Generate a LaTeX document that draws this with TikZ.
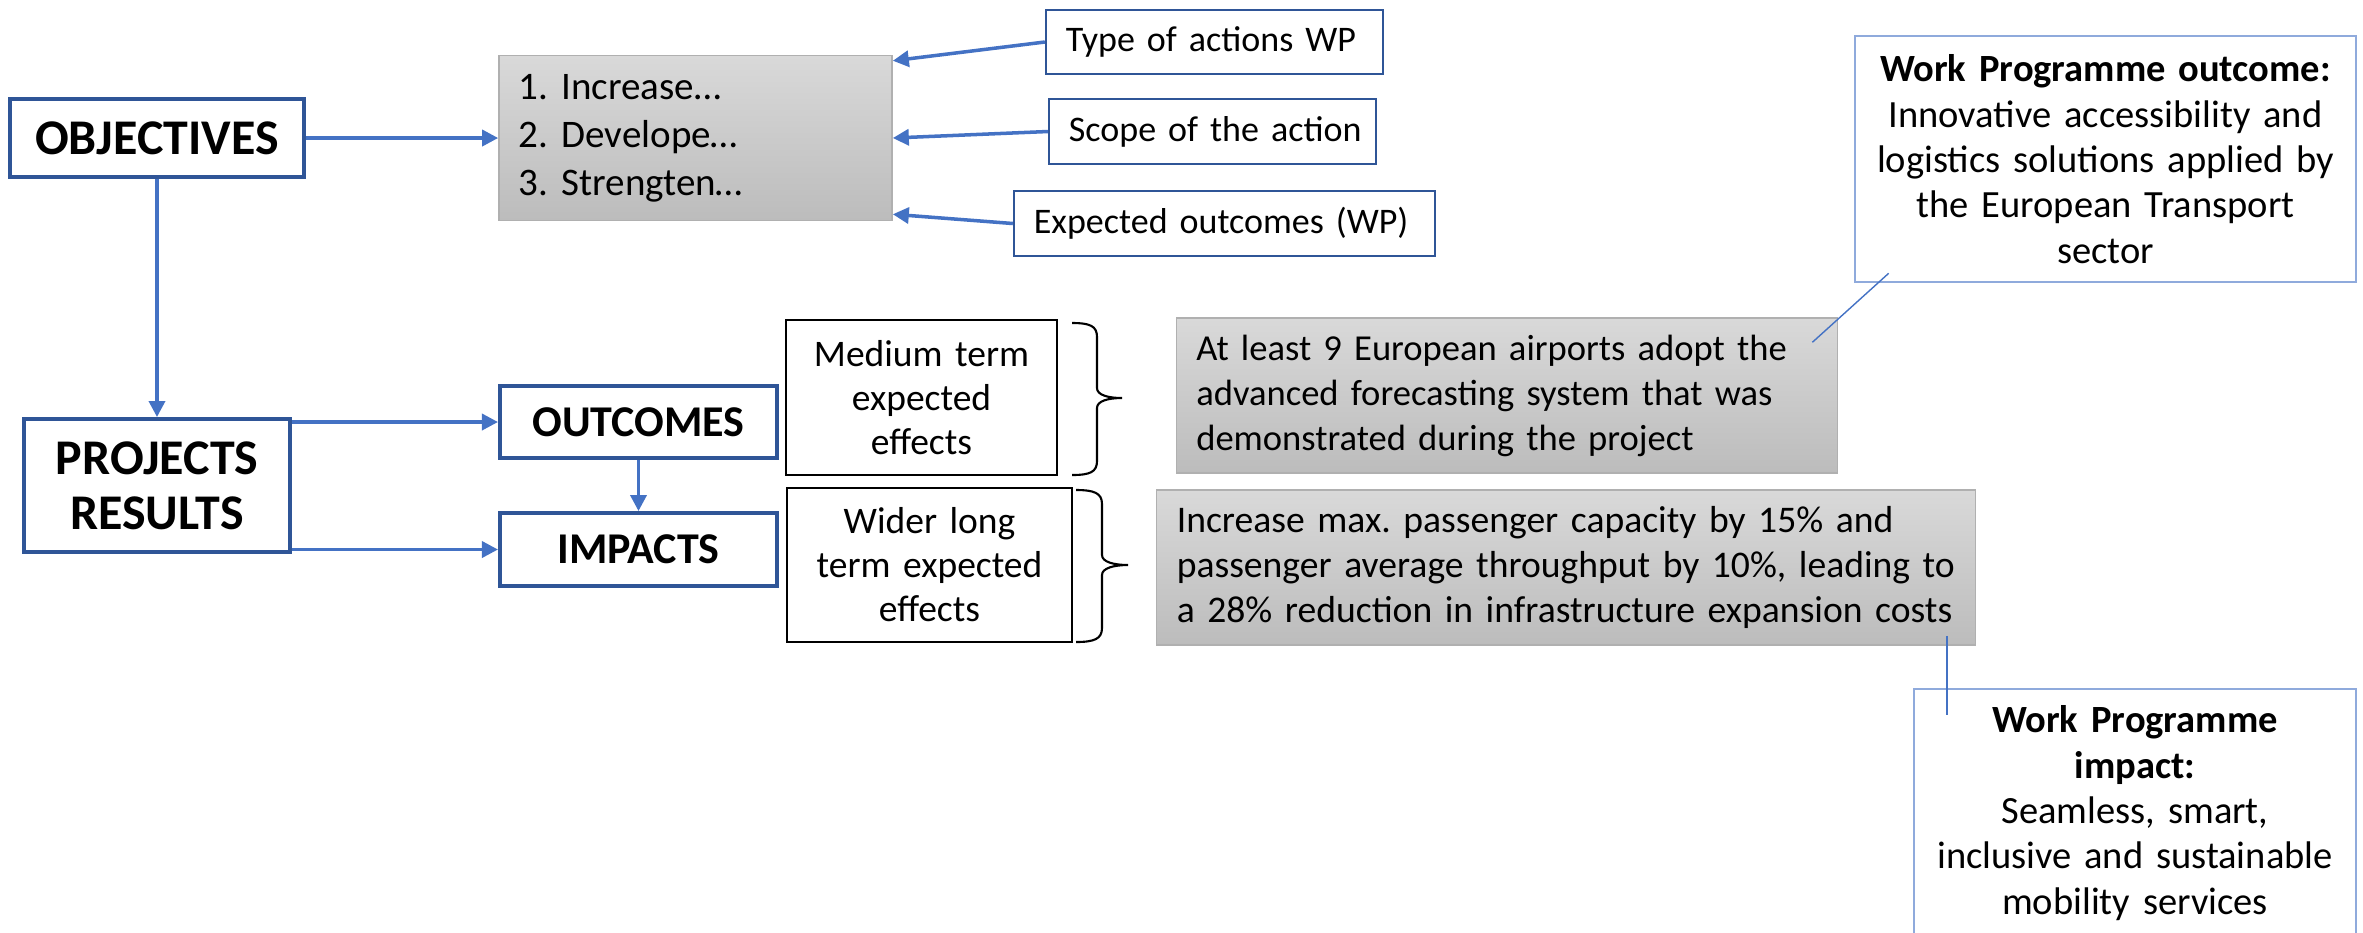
\documentclass[tikz,border=0pt]{standalone}
\usepackage{fontspec}
\setmainfont{Carlito}
\usetikzlibrary{arrows.meta}
\definecolor{darkblue}{HTML}{2F5597}
\definecolor{arrowblue}{HTML}{4472C4}
\definecolor{paleblue}{HTML}{8FAADC}
\definecolor{greytop}{HTML}{D9D9D9}
\definecolor{greybot}{HTML}{BCBCBC}
\definecolor{greyedge}{HTML}{B0B0B0}
\newcommand{\oneline}[1]{\mbox{#1}}
\frenchspacing
\begin{document}
\begin{tikzpicture}[x=0.01cm,y=-0.01cm,
    keybox/.style={draw=darkblue,line width=1.1pt,fill=white,align=center,inner sep=0pt},
    wpbox/.style={draw=darkblue,line width=0.6pt,fill=white,align=left,inner xsep=0.2cm,inner ysep=0pt,font=\fontsize{10.24}{12}\selectfont},
    effbox/.style={draw=black,line width=0.6pt,align=center,inner sep=0pt,font=\fontsize{10.67}{12.5}\selectfont},
    greybox/.style={draw=greyedge,line width=0.4pt,top color=greytop,bottom color=greybot,align=left,inner xsep=0.2cm,inner ysep=0pt,font=\fontsize{10.95}{12.8}\selectfont},
    notebox/.style={draw=paleblue,line width=0.7pt,fill=white,align=center,inner sep=0pt,font=\fontsize{10.95}{12.9}\selectfont},
    flow/.style={arrowblue,line width=1pt,-{Triangle[length=0.16cm,width=0.16cm]}},
    callout/.style={arrowblue,line width=0.4pt},
    bracket/.style={black,line width=0.6pt}]
  \useasboundingbox (0,0) rectangle (2363,932);
  \clip (0,0) rectangle (2363,932);
  \node[keybox,minimum width=2.93cm,minimum height=0.78cm,font=\bfseries\fontsize{14.2}{15.6}\selectfont] (obj) at (157,138) {OBJECTIVES};
  \node[greybox,text width=3.53cm,minimum height=1.65cm,font=\fontsize{11.1}{13.66}\selectfont] (list) at (695.5,138) {1. Increase…\\2. Develope…\\3. Strengten…};
  \node[wpbox,text width=2.97cm,minimum height=0.64cm] (typewp) at (1214.5,42) {\oneline{Type of actions WP}};
  \node[wpbox,text width=2.87cm,minimum height=0.65cm] (scope) at (1212.5,131.5) {\oneline{Scope of the action}};
  \node[wpbox,text width=3.81cm,minimum height=0.65cm] (expect) at (1224.5,223.5) {\oneline{Expected outcomes (WP)}};
  \node[keybox,minimum width=2.65cm,minimum height=1.33cm,font=\bfseries\fontsize{14.2}{15.6}\selectfont] (pr) at (157,485.5) {PROJECTS\\RESULTS};
  \node[keybox,minimum width=2.77cm,minimum height=0.72cm,font=\bfseries\fontsize{12.5}{14}\selectfont] (outc) at (638.5,422) {OUTCOMES};
  \node[keybox,minimum width=2.77cm,minimum height=0.73cm,font=\bfseries\fontsize{12.5}{14}\selectfont] (impc) at (638.5,549.5) {IMPACTS};
  \node[effbox,text width=2.71cm,minimum height=1.55cm] (medium) at (921.5,397.5) {Medium term\\expected\\effects};
  \node[effbox,text width=2.85cm,minimum height=1.54cm] (wider) at (929.5,565) {Wider long\\term expected\\effects};
  \node[greybox,text width=6.21cm,minimum height=1.55cm,font=\fontsize{10.4}{12.8}\selectfont] (least) at (1507,395.5) {\oneline{At least 9 European airports adopt the}\\\oneline{advanced forecasting system that was}\\\oneline{demonstrated during the project}};
  \node[greybox,text width=7.78cm,minimum height=1.55cm,font=\fontsize{10.7}{12.8}\selectfont] (incr) at (1566,567.5) {\oneline{Increase max. passenger capacity by 15\% and}\\\oneline{passenger average throughput by 10\%, leading to}\\\oneline{a 28\% reduction in infrastructure expansion costs}};
  \node[notebox,text width=5.01cm,minimum height=2.46cm] (wpout) at (2105.5,159) {\textbf{Work Programme outcome:}\\Innovative accessibility and\\logistics solutions applied by\\the European Transport\\sector};
  \node[notebox,text width=4.42cm,minimum height=2.48cm] (wpimp) at (2135,813) {\textbf{Work Programme}\\\textbf{impact:}\\Seamless, smart,\\inclusive and sustainable\\mobility services};
  \draw[flow] (obj) -- (list);
  \draw[flow] (obj) -- (pr);
  \draw[flow] (typewp.west) -- ([yshift=-0.06cm]list.north east);
  \draw[flow] (scope.west) -- (list.east);
  \draw[flow] (expect.west) -- ([yshift=0.07cm]list.south east);
  \draw[flow] (pr.east |- outc.west) -- (outc.west);
  \draw[flow] (pr.east |- impc.west) -- (impc.west);
  \draw[flow] (outc) -- (impc);
  \coordinate (leastend) at ([xshift=-0.26cm,yshift=-0.25cm]least.north east);
  \coordinate (wpoutend) at ([xshift=0.35cm,yshift=0.1cm]wpout.south west);
  \coordinate (incrend) at ([xshift=-0.29cm,yshift=0.1cm]incr.south east);
  \coordinate (wpimpend) at (incrend |- 0,715);
  \draw[callout] (leastend) -- (wpoutend);
  \draw[callout] (incrend) -- (wpimpend);
  \draw[bracket] (1072,323) .. controls (1090,323) and (1097,326) .. (1097,337) -- (1097,388)
    .. controls (1097,395) and (1108,398) .. (1122,398) .. controls (1108,398) and (1097,401) .. (1097,408)
    -- (1097,461) .. controls (1097,472) and (1090,475) .. (1072,475);
  \draw[bracket] (1076,490) .. controls (1094,490) and (1102,493) .. (1102,504) -- (1102,555)
    .. controls (1102,562) and (1114,565) .. (1128,565) .. controls (1114,565) and (1102,568) .. (1102,575)
    -- (1102,628) .. controls (1102,639) and (1094,642) .. (1076,642);
\end{tikzpicture}
\end{document}
